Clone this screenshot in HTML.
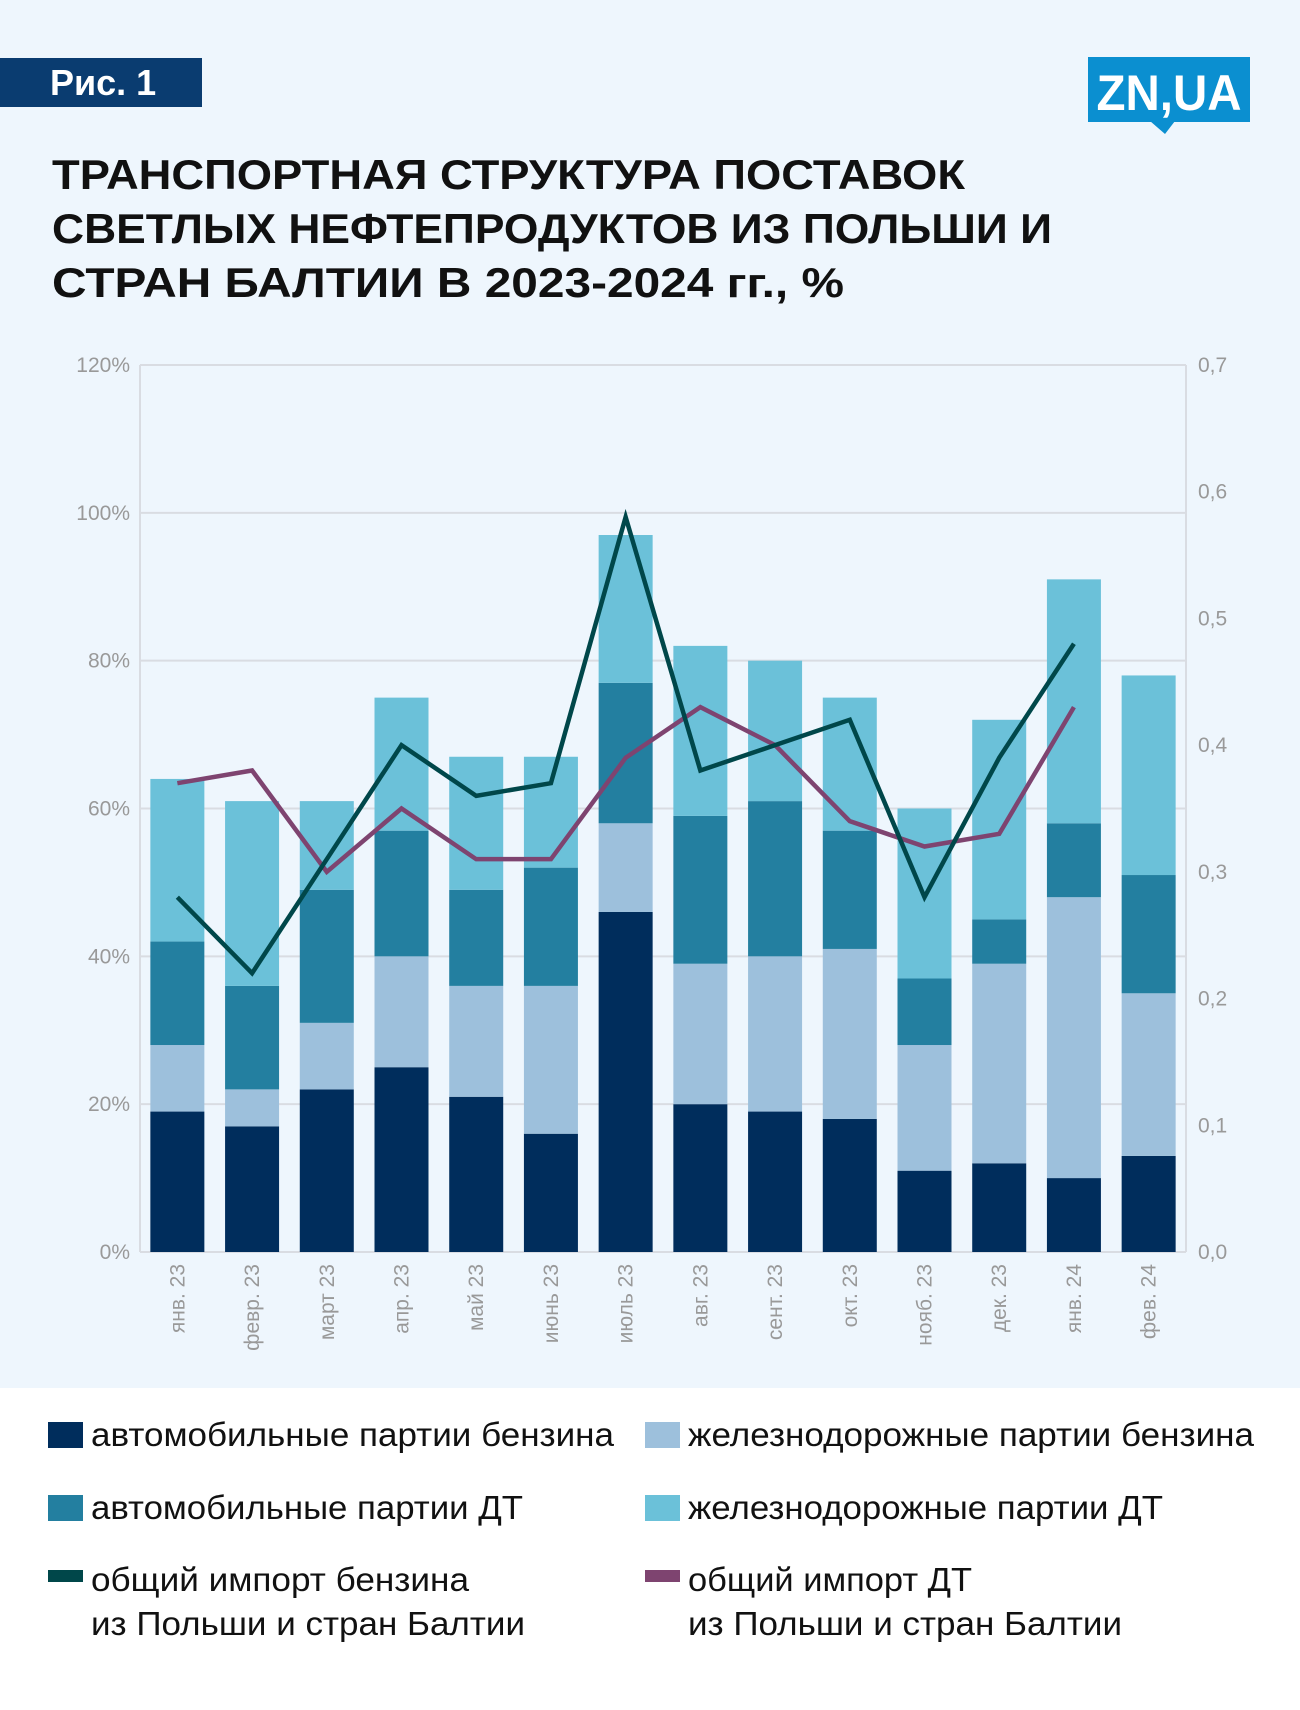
<!DOCTYPE html>
<html><head><meta charset="utf-8">
<style>
html,body{margin:0;padding:0;}
body{width:1300px;height:1705px;background:#fff;font-family:"Liberation Sans",sans-serif;}
svg text{font-family:"Liberation Sans",sans-serif;}
</style></head>
<body>
<svg id="chart" width="1300" height="1705" xmlns="http://www.w3.org/2000/svg">
<rect x="0" y="0" width="1300" height="1388" fill="#eef6fd"/>
<rect x="0" y="58" width="202" height="49" fill="#0a3c70"/>
<text x="50" y="95" font-size="36" font-weight="bold" fill="#fff">Рис. 1</text>
<g>
<rect x="1088" y="57" width="162" height="65" fill="#0b8fd0"/>
<polygon points="1150,121 1175,121 1165,134" fill="#0b8fd0"/>
<text x="1169" y="110" font-size="50" font-weight="bold" fill="#fff" text-anchor="middle" textLength="145" lengthAdjust="spacingAndGlyphs">ZN,UA</text>
</g>
<g font-size="42" font-weight="bold" fill="#111">
<text x="52" y="189" textLength="913" lengthAdjust="spacingAndGlyphs">ТРАНСПОРТНАЯ СТРУКТУРА ПОСТАВОК</text>
<text x="52" y="243" textLength="1000" lengthAdjust="spacingAndGlyphs">СВЕТЛЫХ НЕФТЕПРОДУКТОВ ИЗ ПОЛЬШИ И</text>
<text x="52" y="297" textLength="792" lengthAdjust="spacingAndGlyphs">СТРАН БАЛТИИ В 2023-2024 гг., %</text>
</g>
<g id="plot"></g>
<g font-size="33" fill="#111">
<g><rect x="48" y="1422" width="35" height="26" fill="#002d5c"/><text x="91" y="1446" textLength="523" lengthAdjust="spacingAndGlyphs">автомобильные партии бензина</text></g>
<g><rect x="645" y="1422" width="35" height="26" fill="#9dc0dc"/><text x="688" y="1446" textLength="566" lengthAdjust="spacingAndGlyphs">железнодорожные партии бензина</text></g>
<g><rect x="48" y="1495" width="35" height="26" fill="#237fa0"/><text x="91" y="1519" textLength="432" lengthAdjust="spacingAndGlyphs">автомобильные партии ДТ</text></g>
<g><rect x="645" y="1495" width="35" height="26" fill="#6bc1d9"/><text x="688" y="1519" textLength="475" lengthAdjust="spacingAndGlyphs">железнодорожные партии ДТ</text></g>
<g><rect x="48" y="1570" width="35" height="12" fill="#00474a"/><text x="91" y="1591" textLength="378" lengthAdjust="spacingAndGlyphs">общий импорт бензина</text><text x="91" y="1635" textLength="434" lengthAdjust="spacingAndGlyphs">из Польши и стран Балтии</text></g>
<g><rect x="645" y="1570" width="35" height="12" fill="#7e4470"/><text x="688" y="1591" textLength="284" lengthAdjust="spacingAndGlyphs">общий импорт ДТ</text><text x="688" y="1635" textLength="434" lengthAdjust="spacingAndGlyphs">из Польши и стран Балтии</text></g>
</g>
</svg>
<script>
const categories=["янв. 23","февр. 23","март 23","апр. 23","май 23","июнь 23","июль 23","авг. 23","сент. 23","окт. 23","нояб. 23","дек. 23","янв. 24","фев. 24"];
const autoGasoline=[19,17,22,25,21,16,46,20,19,18,11,12,10,13];
const railGasoline=[9,5,9,15,15,20,12,19,21,23,17,27,38,22];
const autoDiesel=[14,14,18,17,13,16,19,20,21,16,9,6,10,16];
const railDiesel=[22,25,12,18,18,15,20,23,19,18,23,27,33,27];
const gasolineImport=[0.28,0.22,0.31,0.40,0.36,0.37,0.58,0.38,0.40,0.42,0.28,0.39,0.48];
const dieselImport=[0.37,0.38,0.30,0.35,0.31,0.31,0.39,0.43,0.40,0.34,0.32,0.33,0.43];
const leftTicks=["0%","20%","40%","60%","80%","100%","120%"];
const rightTicks=["0,0","0,1","0,2","0,3","0,4","0,5","0,6","0,7"];

const NS="http://www.w3.org/2000/svg";
const g=document.getElementById('plot');
const L=140,R=1186,T=365,B=1252;
const band=(R-L)/categories.length, bw=54;
const yL=v=>B-(v/120)*(B-T);
const yR=v=>B-(v/0.7)*(B-T);
const xC=i=>L+band*(i+0.5);
function mk(tag,attrs){const e=document.createElementNS(NS,tag);for(const k in attrs)e.setAttribute(k,attrs[k]);g.appendChild(e);return e;}
leftTicks.forEach((t,i)=>{
  const v=i*20;
  const ln=mk('line',{x1:L,x2:R,y1:yL(v),y2:yL(v),stroke:'#d9dce2','stroke-width':2});
  
  
  const tx=mk('text',{x:L-10,y:yL(v)+7,'font-size':21,fill:'#999','text-anchor':'end'});
  tx.textContent=t;
  
  
});
rightTicks.forEach((t,i)=>{
  const v=i*0.1;
  const tx=mk('text',{x:R+12,y:yR(v)+7,'font-size':21,fill:'#999'});
  tx.textContent=t;
  
  
});
[L,R].forEach(x=>{const a=mk('line',{x1:x,x2:x,y1:T,y2:B,stroke:'#d9dce2','stroke-width':2});
  
  });
const series=[[autoGasoline,'#002d5c'],[railGasoline,'#9dc0dc'],[autoDiesel,'#237fa0'],[railDiesel,'#6bc1d9']];
categories.forEach((c,i)=>{
  let base=0;
  series.forEach(([arr,col],s)=>{
    const v=arr[i];
    const r=mk('rect',{x:xC(i)-bw/2,y:yL(base+v),width:bw,height:yL(base)-yL(base+v),fill:col});
    
    
    base+=v;
  });
  const tx=mk('text',{x:0,y:0,'font-size':21,fill:'#999','text-anchor':'end',transform:`translate(${xC(i)+7},1264) rotate(-90)`});
  tx.textContent=c;
  
  
});
function line(arr,col,name){
  const pts=arr.map((v,i)=>xC(i)+','+yR(v)).join(' ');
  const p=mk('polyline',{points:pts,fill:'none',stroke:col,'stroke-width':4.5,'stroke-linejoin':'miter'});
  
  
}
line(dieselImport,'#7e4470','diesel-import-line');
line(gasolineImport,'#00474a','gasoline-import-line');
</script>
</body></html>
